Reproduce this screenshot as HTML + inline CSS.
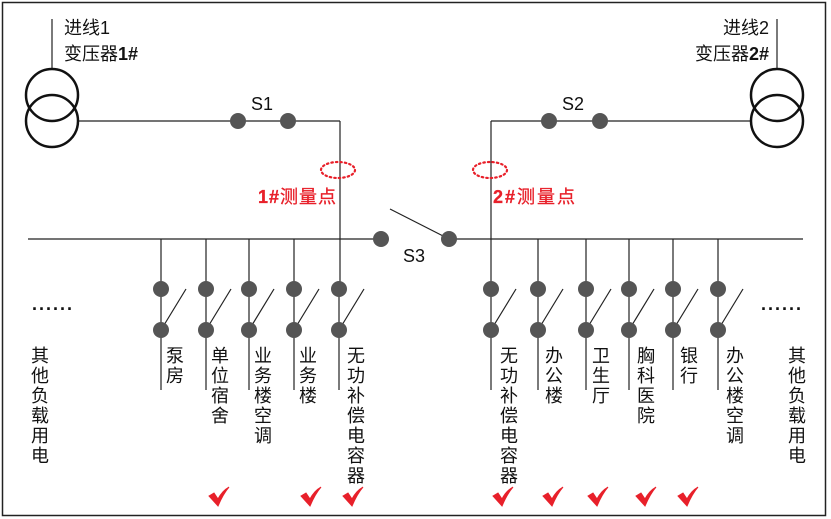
<!DOCTYPE html>
<html><head><meta charset="utf-8"><style>
html,body{margin:0;padding:0;background:#fff}
svg{display:block}
text{font-family:"Liberation Sans","Noto Sans CJK SC",sans-serif}
</style></head><body>
<svg width="831" height="519" viewBox="0 0 831 519" xmlns="http://www.w3.org/2000/svg">
<rect x="2.5" y="2.5" width="823" height="513" fill="#fff" stroke="#222" stroke-width="1.5"/>
<g stroke="#222" stroke-width="1.2" fill="none">
<line x1="52" y1="19" x2="52" y2="69"/>
<line x1="777" y1="19" x2="777" y2="69"/>
<line x1="79" y1="121" x2="340" y2="121"/>
<line x1="340" y1="121" x2="340" y2="290"/>
<line x1="491" y1="121" x2="751" y2="121"/>
<line x1="491" y1="121" x2="491" y2="290"/>
<line x1="28" y1="239" x2="382" y2="239"/>
<line x1="449" y1="239" x2="803" y2="239"/>
<line x1="390" y1="209" x2="449" y2="239"/>
</g>
<g stroke="#111" stroke-width="2.5" fill="none">
<circle cx="52" cy="95" r="26"/><circle cx="52" cy="121" r="26"/>
<circle cx="777" cy="95" r="26"/><circle cx="777" cy="121" r="26"/>
</g>
<g fill="#555">
<circle cx="238" cy="121" r="8"/><circle cx="288" cy="121" r="8"/>
<circle cx="549" cy="121" r="8"/><circle cx="600" cy="121" r="8"/>
<circle cx="381" cy="239" r="8"/><circle cx="449" cy="239" r="8"/>
</g>
<g fill="none" stroke="#e8202a" stroke-width="2.2" stroke-dasharray="1.5 3" stroke-linecap="round">
<ellipse cx="338" cy="170" rx="17" ry="8"/>
<ellipse cx="490" cy="170" rx="17" ry="8"/>
</g>
<g font-size="18" fill="#111">
<text x="64" y="34">进线1</text>
<text x="64" y="60">变压器<tspan font-weight="bold">1#</tspan></text>
<text x="769" y="34" text-anchor="end">进线2</text>
<text x="769" y="60" text-anchor="end">变压器<tspan font-weight="bold">2#</tspan></text>
<text x="251" y="110">S1</text>
<text x="562" y="110">S2</text>
<text x="403" y="262">S3</text>
</g>
<g font-size="18" fill="#e8202a" stroke="#e8202a" stroke-width="0.3">
<text x="258" y="203" textLength="78"><tspan font-weight="bold">1#</tspan>测量点</text>
<text x="493" y="203" textLength="82"><tspan font-weight="bold">2#</tspan>测量点</text>
</g>
<g font-size="18" fill="#111" font-weight="bold">
<text x="32" y="310" letter-spacing="2">......</text>
<text x="761" y="310" letter-spacing="2">......</text>
</g>
<g stroke="#222" stroke-width="1.2">
<line x1="161" y1="239" x2="161" y2="390"/><line x1="161" y1="330" x2="186" y2="289"/>
<line x1="206" y1="239" x2="206" y2="390"/><line x1="206" y1="330" x2="231" y2="289"/>
<line x1="249" y1="239" x2="249" y2="390"/><line x1="249" y1="330" x2="274" y2="289"/>
<line x1="294" y1="239" x2="294" y2="390"/><line x1="294" y1="330" x2="319" y2="289"/>
<line x1="339" y1="290" x2="339" y2="390"/><line x1="339" y1="330" x2="364" y2="289"/>
<line x1="491" y1="290" x2="491" y2="390"/><line x1="491" y1="330" x2="516" y2="289"/>
<line x1="538" y1="239" x2="538" y2="390"/><line x1="538" y1="330" x2="563" y2="289"/>
<line x1="586" y1="239" x2="586" y2="390"/><line x1="586" y1="330" x2="611" y2="289"/>
<line x1="629" y1="239" x2="629" y2="390"/><line x1="629" y1="330" x2="654" y2="289"/>
<line x1="673" y1="239" x2="673" y2="390"/><line x1="673" y1="330" x2="698" y2="289"/>
<line x1="718" y1="239" x2="718" y2="390"/><line x1="718" y1="330" x2="743" y2="289"/>
</g>
<g fill="#555">
<circle cx="161" cy="289" r="8"/><circle cx="161" cy="330" r="8"/>
<circle cx="206" cy="289" r="8"/><circle cx="206" cy="330" r="8"/>
<circle cx="249" cy="289" r="8"/><circle cx="249" cy="330" r="8"/>
<circle cx="294" cy="289" r="8"/><circle cx="294" cy="330" r="8"/>
<circle cx="339" cy="289" r="8"/><circle cx="339" cy="330" r="8"/>
<circle cx="491" cy="289" r="8"/><circle cx="491" cy="330" r="8"/>
<circle cx="538" cy="289" r="8"/><circle cx="538" cy="330" r="8"/>
<circle cx="586" cy="289" r="8"/><circle cx="586" cy="330" r="8"/>
<circle cx="629" cy="289" r="8"/><circle cx="629" cy="330" r="8"/>
<circle cx="673" cy="289" r="8"/><circle cx="673" cy="330" r="8"/>
<circle cx="718" cy="289" r="8"/><circle cx="718" cy="330" r="8"/>
</g>
<g font-size="18" fill="#111" text-anchor="middle">
<text x="175" y="362">泵<tspan x="175" dy="20">房</tspan></text>
<text x="220" y="362">单<tspan x="220" dy="20">位</tspan><tspan x="220" dy="20">宿</tspan><tspan x="220" dy="20">舍</tspan></text>
<text x="263" y="362">业<tspan x="263" dy="20">务</tspan><tspan x="263" dy="20">楼</tspan><tspan x="263" dy="20">空</tspan><tspan x="263" dy="20">调</tspan></text>
<text x="308" y="362">业<tspan x="308" dy="20">务</tspan><tspan x="308" dy="20">楼</tspan></text>
<text x="356" y="362">无<tspan x="356" dy="20">功</tspan><tspan x="356" dy="20">补</tspan><tspan x="356" dy="20">偿</tspan><tspan x="356" dy="20">电</tspan><tspan x="356" dy="20">容</tspan><tspan x="356" dy="20">器</tspan></text>
<text x="509" y="362">无<tspan x="509" dy="20">功</tspan><tspan x="509" dy="20">补</tspan><tspan x="509" dy="20">偿</tspan><tspan x="509" dy="20">电</tspan><tspan x="509" dy="20">容</tspan><tspan x="509" dy="20">器</tspan></text>
<text x="554" y="362">办<tspan x="554" dy="20">公</tspan><tspan x="554" dy="20">楼</tspan></text>
<text x="601" y="362">卫<tspan x="601" dy="20">生</tspan><tspan x="601" dy="20">厅</tspan></text>
<text x="646" y="362">胸<tspan x="646" dy="20">科</tspan><tspan x="646" dy="20">医</tspan><tspan x="646" dy="20">院</tspan></text>
<text x="689" y="362">银<tspan x="689" dy="20">行</tspan></text>
<text x="735" y="362">办<tspan x="735" dy="20">公</tspan><tspan x="735" dy="20">楼</tspan><tspan x="735" dy="20">空</tspan><tspan x="735" dy="20">调</tspan></text>
<text x="40" y="362">其<tspan x="40" dy="20">他</tspan><tspan x="40" dy="20">负</tspan><tspan x="40" dy="20">载</tspan><tspan x="40" dy="20">用</tspan><tspan x="40" dy="20">电</tspan></text>
<text x="797" y="362">其<tspan x="797" dy="20">他</tspan><tspan x="797" dy="20">负</tspan><tspan x="797" dy="20">载</tspan><tspan x="797" dy="20">用</tspan><tspan x="797" dy="20">电</tspan></text>
</g>
<defs><path id="tk" d="M-10,-1 L-5,-4 L-1,2 Q3,-6 10,-10 Q4,-3 -1,9 Z" fill="#e8202a" stroke="#e8202a" stroke-width="1"/></defs>
<use href="#tk" x="219" y="497"/><use href="#tk" x="311" y="497"/><use href="#tk" x="353" y="497"/>
<use href="#tk" x="503" y="497"/><use href="#tk" x="553" y="497"/><use href="#tk" x="598" y="497"/>
<use href="#tk" x="646" y="497"/><use href="#tk" x="688" y="497"/>
</svg>
</body></html>
